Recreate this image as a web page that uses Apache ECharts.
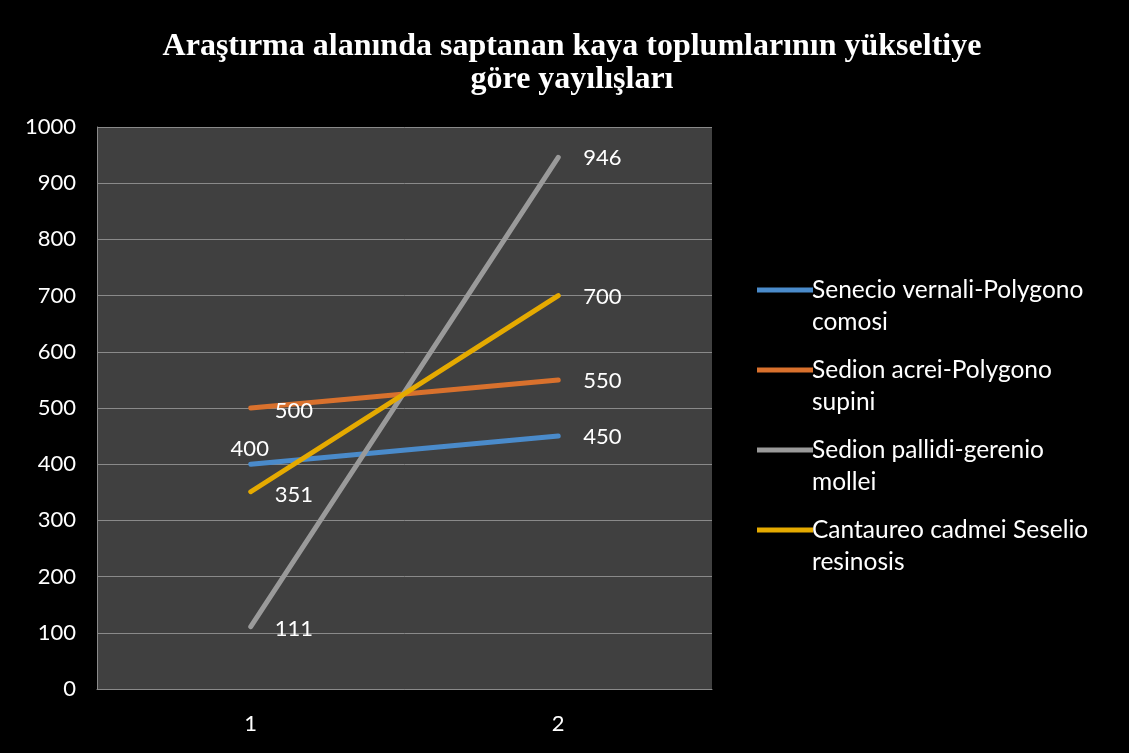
<!DOCTYPE html>
<html>
<head>
<meta charset="utf-8">
<script src="https://cdn.jsdelivr.net/npm/echarts@6/dist/echarts.min.js"></script>
<style>
  html, body { margin: 0; padding: 0; background: #000; }
  #chart { width: 1129px; height: 753px; }
</style>
</head>
<body>
<div id="chart"></div>
<script>
// Elevation classes on the x axis
const categories = ['1', '2'];

// Rock community names (legend) and their values per elevation class
const seriesNames = [
  'Senecio vernali-Polygono\ncomosi',
  'Sedion acrei-Polygono\nsupini',
  'Sedion pallidi-gerenio\nmollei',
  'Cantaureo cadmei Seselio\nresinosis'
];
const senecioValues = [400, 450];
const sedionAcreiValues = [500, 550];
const sedionPallidiValues = [111, 946];
const cantaureoValues = [351, 700];

const colors = ['#4a8bcb', '#d9712d', '#9a9a9a', '#e5aa00'];

const FONT = 'Lato, "Open Sans", sans-serif';

// Label placement for the first point of each series
const firstLabel = [
  { position: 'top', distance: 4, offset: [-1, 0] },
  { position: 'right', distance: 24, offset: [0, 3] },
  { position: 'right', distance: 24, offset: [0, 2] },
  { position: 'right', distance: 24, offset: [0, 3] }
];

const valueSets = [senecioValues, sedionAcreiValues, sedionPallidiValues, cantaureoValues];

const series = valueSets.map((vals, i) => ({
  name: seriesNames[i],
  type: 'line',
  data: vals.map((v, j) => j === 0
    ? { value: v, label: firstLabel[i] }
    : { value: v }),
  color: colors[i],
  showSymbol: true,
  symbol: 'circle',
  symbolSize: 0.1,
  itemStyle: { color: colors[i] },
  lineStyle: { width: 5, cap: 'round', color: colors[i] },
  label: {
    show: true,
    position: 'right',
    distance: 25,
    offset: [0, 1],
    color: '#ffffff',
    fontFamily: FONT,
    fontSize: 22
  },
  emphasis: { disabled: true },
  animation: false
}));

// Legend icon: a short bar sitting level with the first text line of a two-line entry
const legendIcon = 'path://M0,13.5 L56,13.5 L56,18.5 L0,18.5 Z M0,0 L0.001,0 M0,64 L0.001,64';

const chart = echarts.init(document.getElementById('chart'), null, { renderer: 'canvas' });
chart.setOption({
  backgroundColor: '#000000',
  animation: false,
  title: {
    text: 'Araştırma alanında saptanan kaya toplumlarının yükseltiye\ngöre yayılışları',
    left: 567,
    textAlign: 'center',
    top: 25,
    textStyle: {
      color: '#ffffff',
      fontFamily: '"Liberation Serif", "Times New Roman", serif',
      fontWeight: 'bold',
      fontSize: 32,
      lineHeight: 33
    }
  },
  legend: {
    orient: 'vertical',
    left: 752,
    top: 269,
    itemWidth: 56,
    itemHeight: 64,
    itemGap: 16,
    icon: legendIcon,
    selectedMode: false,
    data: seriesNames,
    textStyle: {
      color: '#ffffff',
      fontFamily: FONT,
      fontSize: 24.5,
      lineHeight: 32,
      padding: [0, 0, 0, -6]
    }
  },
  grid: {
    left: 97,
    right: 417,
    top: 127,
    bottom: 64,
    show: true,
    backgroundColor: '#404040',
    borderWidth: 0
  },
  xAxis: {
    type: 'category',
    data: categories,
    boundaryGap: true,
    axisLine: { show: true, lineStyle: { color: '#8a8a8a', width: 1 } },
    axisTick: { show: false },
    axisLabel: { color: '#ffffff', fontFamily: FONT, fontSize: 22, margin: 24 }
  },
  yAxis: {
    type: 'value',
    min: 0,
    max: 1000,
    interval: 100,
    axisLine: { show: true, lineStyle: { color: '#8a8a8a', width: 1 } },
    axisTick: { show: false },
    splitLine: { show: true, lineStyle: { color: '#8a8a8a', width: 1 } },
    axisLabel: {
      color: '#ffffff', fontFamily: FONT, fontSize: 22, margin: 21,
      formatter: (v) => String(v)
    }
  },
  series: series
});
</script>
</body>
</html>
